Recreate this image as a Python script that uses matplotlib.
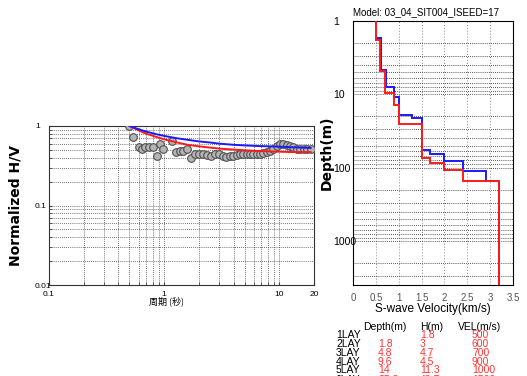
#!/usr/bin/env python3
"""H/V fit and S-wave velocity profile, redrawn as out.png."""

import matplotlib
matplotlib.use("Agg")
import matplotlib.pyplot as plt
from matplotlib.ticker import FixedLocator, NullFormatter, NullLocator

plt.rcParams["font.family"] = ["Liberation Sans", "DejaVu Sans"]

W, H = 527, 376

# observed H/V (grey circles)
period_obs = [0.50, 0.54, 0.60, 0.64, 0.68, 0.74, 0.80, 0.86, 0.92, 0.98,
              1.16, 1.27, 1.37, 1.47, 1.59, 1.71, 1.85, 2.00, 2.19, 2.37,
              2.55, 2.76, 2.99, 3.22, 3.44, 3.72, 3.98, 4.26, 4.55, 4.86,
              5.20, 5.56, 5.94, 6.35, 6.79, 7.25, 7.76, 8.28, 8.85, 9.47,
              10.1, 10.8, 11.6, 12.4, 13.2, 14.1, 15.1, 16.4, 17.5, 18.7]
hv_obs = [1.00, 0.72, 0.54, 0.51, 0.54, 0.54, 0.54, 0.42, 0.59, 0.51,
          0.64, 0.47, 0.49, 0.49, 0.51, 0.40, 0.44, 0.45, 0.44, 0.43,
          0.42, 0.44, 0.44, 0.42, 0.41, 0.42, 0.42, 0.43, 0.44, 0.44,
          0.44, 0.44, 0.44, 0.44, 0.45, 0.46, 0.47, 0.49, 0.52, 0.56,
          0.59, 0.59, 0.58, 0.56, 0.54, 0.52, 0.52, 0.52, 0.52, 0.52]

# theoretical curves
period_fit = [0.5, 0.6, 0.7, 0.85, 1.0, 1.3, 1.6, 2.0, 2.5, 3.0, 4.0, 5.0,
              6.5, 8.0, 10.0, 13.0, 18.7]
hv_red = [1.0, 0.88, 0.80, 0.73, 0.68, 0.62, 0.58, 0.555, 0.535, 0.52, 0.505,
          0.495, 0.485, 0.48, 0.475, 0.47, 0.47]
hv_blue = [1.0, 0.91, 0.85, 0.79, 0.75, 0.70, 0.67, 0.64, 0.62, 0.60, 0.58,
           0.57, 0.56, 0.555, 0.55, 0.54, 0.53]

# velocity profiles: layer boundaries (m) and Vs (km/s)
red_bounds = [1.0, 1.8, 4.8, 9.6, 14, 25.3, 75, 87, 108, 151, 4000]
red_vs = [0.5, 0.6, 0.7, 0.9, 1.0, 1.5, 1.68, 2.0, 2.4, 3.2]
blue_bounds = [1.0, 1.7, 4.7, 7.9, 10.9, 19, 20.8, 57, 65, 82, 110, 151, 4000]
blue_vs = [0.5, 0.62, 0.72, 0.9, 1.0, 1.28, 1.5, 1.68, 2.0, 2.4, 2.9, 3.2]

# layer table (last row is cut by the bottom edge in the original)
lay_names = ["1LAY", "2LAY", "3LAY", "4LAY", "5LAY", "6LAY"]
lay_depth = ["", "1.8", "4.8", "9.6", "14", "25.3"]
lay_thick = ["1.8", "3", "4.7", "4.5", "11.3", "49.7"]
lay_vel = ["500", "600", "700", "900", "1000", "1500"]


def box(x0, y0, x1, y1):
    return [x0 / W, 1 - y1 / H, (x1 - x0) / W, (y1 - y0) / H]


def fpos(x, y):
    return x / W, 1 - y / H


fig = plt.figure(figsize=(W / 100, H / 100), dpi=100)

# ---- left: normalized H/V ----
ax1 = fig.add_axes(box(49, 126, 314, 285))
ax1.set_xscale("log")
ax1.set_yscale("log")
ax1.set_xlim(0.1, 20)
ax1.set_ylim(0.01, 1)

ax1.plot(period_obs, hv_obs, "o", ms=5.5, mfc="#b4b4b4", mec="#505050",
         mew=0.8, zorder=3)
ax1.plot(period_fit, hv_red, color="#ff1a1a", lw=1.4, zorder=4)
ax1.plot(period_fit, hv_blue, color="#1a1aff", lw=1.4, zorder=4)

xgrid = [m * 10.0 ** e for e in (-1, 0, 1) for m in range(1, 10)]
ygrid = [m * 10.0 ** e for e in (-2, -1) for m in range(1, 10)]
ax1.xaxis.set_major_locator(FixedLocator([0.1, 1, 10, 20]))
ax1.xaxis.set_minor_locator(FixedLocator(xgrid))
ax1.yaxis.set_major_locator(FixedLocator([0.01, 0.1, 1]))
ax1.yaxis.set_minor_locator(FixedLocator(ygrid))
ax1.xaxis.set_minor_formatter(NullFormatter())
ax1.yaxis.set_minor_formatter(NullFormatter())
ax1.set_xticklabels(["0.1", "1", "10", "20"])
ax1.set_yticklabels(["0.01", "0.1", "1"])
ax1.grid(which="both", color="#444444", linestyle=(0, (1, 1.5)), lw=0.6)
ax1.tick_params(which="both", direction="in", length=2, labelsize=6,
                color="#444444")
ax1.tick_params(axis="x", pad=4)
ax1.tick_params(axis="y", pad=10)
for lbl in ax1.get_yticklabels():
    lbl.set_horizontalalignment("left")
for s in ax1.spines.values():
    s.set_color("#333333")
ax1.set_ylabel("Normalized H/V", fontsize=10, fontweight="bold",
               family=["DejaVu Sans"])
ax1.yaxis.set_label_coords(-0.10, 0.5)
ax1.set_xlabel("周期 (秒)", fontsize=6.5, family=["Noto Sans CJK JP", "DejaVu Sans"])
ax1.xaxis.set_label_coords(0.445, -0.07)
ax1.xaxis.label.set_va("top")

# ---- right: S-wave velocity profile ----
ax2 = fig.add_axes(box(353, 21, 513, 285))
ax2.set_yscale("log")
ax2.set_xlim(0, 3.5)
ax2.set_ylim(4000, 1)
ax2.stairs(blue_vs, blue_bounds, orientation="horizontal", baseline=None,
           color="#1a1aff", lw=1.4, zorder=3)
ax2.stairs(red_vs, red_bounds, orientation="horizontal", baseline=None,
           color="#ff1a1a", lw=1.4, zorder=4)

ax2.xaxis.set_major_locator(FixedLocator([0, 0.5, 1, 1.5, 2, 2.5, 3, 3.5]))
ax2.set_xticklabels(["0", "0.5", "1", "1.5", "2", "2.5", "3", "3.5"])
ax2.yaxis.set_major_locator(FixedLocator([1, 10, 100, 1000]))
ax2.set_yticklabels(["1", "10", "100", "1000"])
dgrid = [m * 10.0 ** e for e in range(0, 4) for m in range(2, 10)]
ax2.yaxis.set_minor_locator(FixedLocator(dgrid))
ax2.yaxis.set_minor_formatter(NullFormatter())
ax2.xaxis.set_minor_locator(NullLocator())
ax2.grid(axis="x", color="#888888", linestyle=(0, (1, 2)), lw=0.7)
ax2.grid(axis="y", which="both", color="#222222", linestyle=(0, (1, 1.5)),
         lw=0.6)
ax2.tick_params(which="both", length=0)
ax2.tick_params(axis="x", labelsize=7, pad=6, labelcolor="#555555")
ax2.tick_params(axis="y", labelsize=7.5, pad=14)
for lbl in ax2.get_yticklabels():
    lbl.set_horizontalalignment("left")
for s in ax2.spines.values():
    s.set_color("black")
ax2.set_title("Model: 03_04_SIT004_ISEED=17", fontsize=7, loc="left", pad=4)
ax2.set_xlabel("S-wave Velocity(km/s)", fontsize=8.5, labelpad=0)
ax2.set_ylabel("Depth(m)", fontsize=10, fontweight="bold",
               family=["DejaVu Sans"])
ax2.yaxis.set_label_coords(-0.122, 0.5)

# ---- layer table ----
fig.text(*fpos(363, 327), "Depth(m)", fontsize=7.5, va="center")
fig.text(*fpos(420, 327), "H(m)", fontsize=7.5, va="center")
fig.text(*fpos(458, 327), "VEL(m/s)", fontsize=7.5, va="center")
row_y = [335, 344, 353, 362, 370, 380]
for name, dep, thk, vel, y in zip(lay_names, lay_depth, lay_thick, lay_vel, row_y):
    fig.text(*fpos(336, y), name, fontsize=7.5, va="center")
    fig.text(*fpos(378, y), dep, fontsize=7.5, va="center", color="#ff3333")
    fig.text(*fpos(420, y), thk, fontsize=7.5, va="center", color="#ff3333")
    fig.text(*fpos(472, y), vel, fontsize=7.5, va="center", color="#ff3333")

fig.savefig("out.png", dpi=100)
